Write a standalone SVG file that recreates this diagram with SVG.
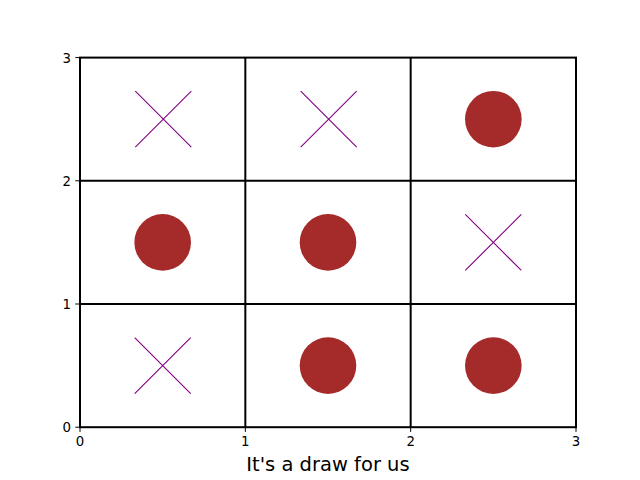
<svg xmlns="http://www.w3.org/2000/svg" width="640" height="480" viewBox="0 0 640 480">
<style>
.t{font-family:"DejaVu Sans",sans-serif;font-size:13.33px;fill:#000}
.grid{stroke:#000;stroke-width:2;fill:none}
.x{stroke:#800080;stroke-width:1.1;fill:none}
.o{fill:#a52a2a}
.tick{stroke:#000;stroke-width:1}
</style>
<rect width="640" height="480" fill="#fff"/>
<g id="connectors">
<line class="grid" x1="245.33" y1="57.6" x2="245.33" y2="427.2"/>
<line class="grid" x1="410.67" y1="57.6" x2="410.67" y2="427.2"/>
<line class="grid" x1="80" y1="180.8" x2="576" y2="180.8"/>
<line class="grid" x1="80" y1="304" x2="576" y2="304"/>
<rect class="grid" x="80" y="57.6" width="496" height="369.6"/>
</g>
<g id="ticks">
<line class="tick" x1="80" y1="427.2" x2="80" y2="431.9"/>
<line class="tick" x1="245.33" y1="427.2" x2="245.33" y2="431.9"/>
<line class="tick" x1="410.67" y1="427.2" x2="410.67" y2="431.9"/>
<line class="tick" x1="576" y1="427.2" x2="576" y2="431.9"/>
<line class="tick" x1="75.3" y1="427.2" x2="80" y2="427.2"/>
<line class="tick" x1="75.3" y1="304" x2="80" y2="304"/>
<line class="tick" x1="75.3" y1="180.8" x2="80" y2="180.8"/>
<line class="tick" x1="75.3" y1="57.6" x2="80" y2="57.6"/>
<text class="t" x="80" y="446" text-anchor="middle">0</text>
<text class="t" x="245.33" y="446" text-anchor="middle">1</text>
<text class="t" x="410.67" y="446" text-anchor="middle">2</text>
<text class="t" x="576" y="446" text-anchor="middle">3</text>
<text class="t" x="71" y="432.2" text-anchor="end">0</text>
<text class="t" x="71" y="309" text-anchor="end">1</text>
<text class="t" x="71" y="185.8" text-anchor="end">2</text>
<text class="t" x="71" y="62.6" text-anchor="end">3</text>
</g>
<g id="cell-00"><path class="x" d="M135.3,91.2 L191.3,147.2 M135.3,147.2 L191.3,91.2"/></g>
<g id="cell-01"><path class="x" d="M300.7,91.2 L356.7,147.2 M300.7,147.2 L356.7,91.2"/></g>
<g id="cell-02"><circle class="o" cx="493.33" cy="119.2" r="28.3"/></g>
<g id="cell-10"><circle class="o" cx="162.67" cy="242.4" r="28.3"/></g>
<g id="cell-11"><circle class="o" cx="328" cy="242.4" r="28.3"/></g>
<g id="cell-12"><path class="x" d="M465.3,214.4 L521.3,270.4 M465.3,270.4 L521.3,214.4"/></g>
<g id="cell-20"><path class="x" d="M134.7,337.6 L190.7,393.6 M134.7,393.6 L190.7,337.6"/></g>
<g id="cell-21"><circle class="o" cx="328" cy="365.6" r="28.3"/></g>
<g id="cell-22"><circle class="o" cx="493.33" cy="365.6" r="28.3"/></g>
<text x="328" y="471" text-anchor="middle" font-family="DejaVu Sans, sans-serif" font-size="19.5" fill="#000">It's a draw for us</text>
</svg>
